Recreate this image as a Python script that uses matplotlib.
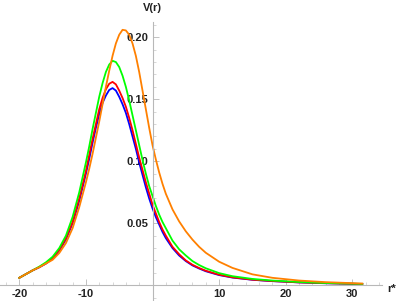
import matplotlib
matplotlib.use("Agg")
import matplotlib.pyplot as plt
from matplotlib.ticker import MultipleLocator, FixedLocator

# tortoise coordinate r*
r_star = [-20, -19, -18, -17, -16, -15, -14, -13, -12, -11, -10, -9.5, -9, -8.5,
          -8, -7.5, -7, -6.5, -6, -5.5, -5, -4.5, -4, -3.5, -3, -2.5, -2, -1.5,
          -1, -0.5, 0, 0.5, 1, 1.5, 2, 3, 4, 5, 6, 7, 8, 10, 12, 15, 18, 22, 26, 31.5]

v_blue = [0.006, 0.009, 0.012, 0.0145, 0.0175, 0.0215, 0.028, 0.037, 0.050, 0.068,
          0.090, 0.102, 0.115, 0.127, 0.138, 0.147, 0.153, 0.1575, 0.159, 0.157,
          0.152, 0.146, 0.139, 0.130, 0.120, 0.110, 0.099, 0.089, 0.079, 0.070,
          0.062, 0.055, 0.049, 0.043, 0.038, 0.030, 0.024, 0.0195, 0.016, 0.0135,
          0.0113, 0.0082, 0.0062, 0.0044, 0.0033, 0.0023, 0.0016, 0.001]

v_red = [0.006, 0.009, 0.012, 0.0146, 0.0177, 0.022, 0.0285, 0.0378, 0.051, 0.070,
         0.092, 0.105, 0.118, 0.130, 0.142, 0.151, 0.158, 0.1625, 0.164, 0.162,
         0.157, 0.151, 0.144, 0.135, 0.125, 0.114, 0.103, 0.093, 0.083, 0.074,
         0.065, 0.058, 0.051, 0.045, 0.040, 0.031, 0.025, 0.020, 0.0165, 0.0139,
         0.0117, 0.0085, 0.0064, 0.0045, 0.0034, 0.0023, 0.0017, 0.001]

v_green = [0.006, 0.009, 0.012, 0.015, 0.0185, 0.023, 0.030, 0.040, 0.055, 0.075,
           0.099, 0.112, 0.126, 0.139, 0.152, 0.163, 0.172, 0.178, 0.181, 0.180,
           0.176, 0.169, 0.160, 0.149, 0.137, 0.125, 0.113, 0.101, 0.090, 0.080,
           0.072, 0.064, 0.057, 0.051, 0.046, 0.036, 0.029, 0.024, 0.0195, 0.0163,
           0.0137, 0.0098, 0.0073, 0.0051, 0.0038, 0.0026, 0.0018, 0.0011]

v_orange = [0.006, 0.009, 0.012, 0.0145, 0.0175, 0.0205, 0.026, 0.034, 0.046, 0.063,
            0.083, 0.094, 0.106, 0.119, 0.132, 0.146, 0.160, 0.173, 0.185, 0.195,
            0.202, 0.206, 0.2055, 0.202, 0.195, 0.185, 0.172, 0.157, 0.142, 0.127,
            0.113, 0.1015, 0.091, 0.0818, 0.0738, 0.0612, 0.0515, 0.0435, 0.0368,
            0.031, 0.0262, 0.019, 0.014, 0.0088, 0.006, 0.0038, 0.0025, 0.0014]

x_ticks = [-20, -10, 10, 20, 30]
y_ticks = [0.05, 0.10, 0.15, 0.20]

fig = plt.figure(figsize=(3.97, 3.01), dpi=100)
ax = fig.add_axes([0, 0, 382 / 397, 279 / 301])

lw = 1.3
ax.plot(r_star, v_blue, color=(0, 0, 1), lw=lw)
ax.plot(r_star, v_red, color=(1, 0, 0), lw=lw)
ax.plot(r_star, v_green, color=(0, 1, 0), lw=lw)
ax.plot(r_star, v_orange, color=(1, 0.5, 0), lw=lw)

ax.set_xlim(-22.9, 34.46)
ax.set_ylim(-0.0127, 0.2123)

# Mathematica-style axes crossing at the origin
for s in ["top", "right"]:
    ax.spines[s].set_visible(False)
ax.spines["left"].set_position(("data", 0))
ax.spines["bottom"].set_position(("data", 0))
for s in ["left", "bottom"]:
    ax.spines[s].set_color("#b8b8b8")
    ax.spines[s].set_linewidth(0.8)

ax.xaxis.set_major_locator(FixedLocator(x_ticks))
ax.xaxis.set_minor_locator(MultipleLocator(2))
ax.yaxis.set_major_locator(FixedLocator(y_ticks))
ax.yaxis.set_minor_locator(MultipleLocator(0.01))
ax.set_xticklabels([str(t) for t in x_ticks])
ax.set_yticklabels(["%.2f" % t for t in y_ticks])

ax.tick_params(which="major", direction="in", length=4, width=0.6,
               color="#b8b8b8", labelsize=8, labelcolor="#222222", pad=3)
ax.tick_params(which="minor", direction="in", length=2.2, width=0.5,
               color="#c8c8c8")
for lab in ax.get_xticklabels() + ax.get_yticklabels():
    lab.set_fontfamily("Liberation Sans")
    lab.set_fontweight("bold")

fig.text(152 / 397, 1 - 8 / 301, "V(r)", ha="center", va="center",
         fontsize=8, fontweight="bold", family="Liberation Sans", color="#222222")
fig.text(392 / 397, 1 - 289 / 301, "r*", ha="center", va="center",
         fontsize=8, fontweight="bold", family="Liberation Sans", color="#222222")

fig.savefig("out.png", dpi=100)
